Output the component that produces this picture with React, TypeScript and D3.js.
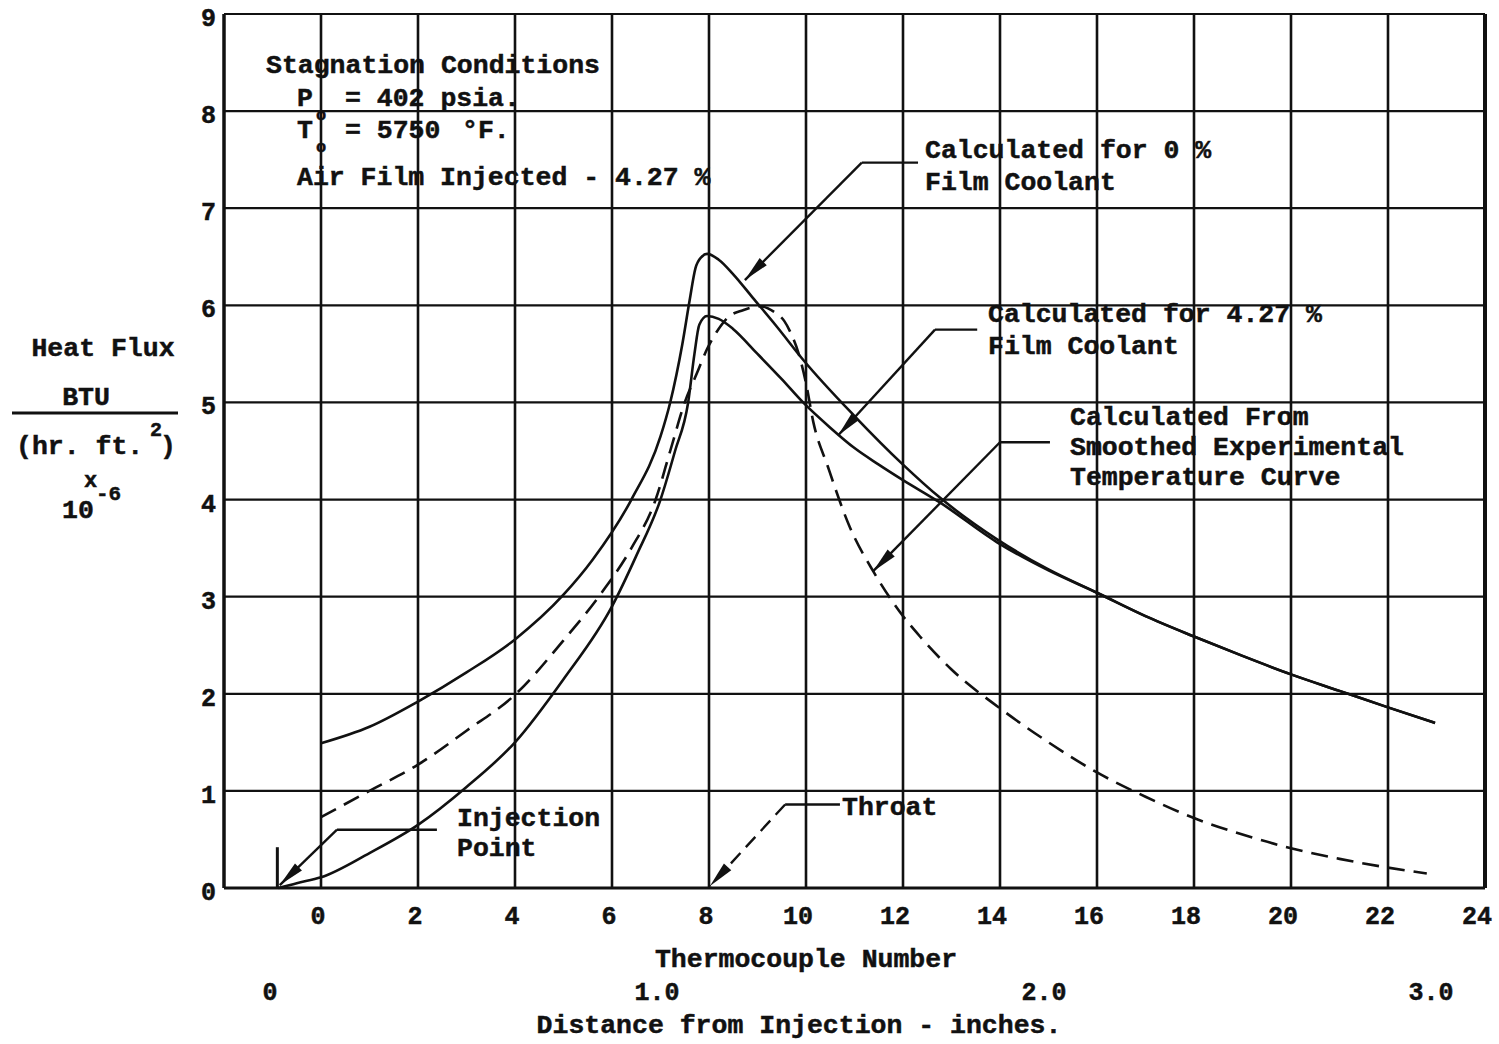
import React, { useRef, useEffect } from 'react';
import * as d3 from 'd3';

const W = 1499;
const H = 1044;

// axis ticks
const tcTicks = [0, 2, 4, 6, 8, 10, 12, 14, 16, 18, 20, 22, 24];
const fluxTicks = [0, 1, 2, 3, 4, 5, 6, 7, 8, 9];
const inchTicks = [0, 1, 2, 3];
const inchLabels = ['0', '1.0', '2.0', '3.0'];

// Calculated for 0 % film coolant
const zeroX = [0, 1, 2, 3, 4, 5, 5.6, 6.4, 7.0, 7.2, 7.45, 7.6, 7.72, 7.85, 7.96, 8.2, 8.5, 8.9, 9.4, 9.94, 11, 12, 12.76, 13.94, 15, 16, 17, 18, 19, 20, 21, 22, 22.97];
const zeroY = [1.49, 1.66, 1.92, 2.22, 2.56, 3.02, 3.38, 4.0, 4.65, 5.0, 5.6, 6.05, 6.38, 6.5, 6.53, 6.47, 6.32, 6.08, 5.78, 5.44, 4.86, 4.36, 4.02, 3.59, 3.28, 3.04, 2.8, 2.59, 2.39, 2.2, 2.03, 1.86, 1.7];

// Calculated for 4.27 % film coolant
const filmX = [-0.88, -0.5, 0, 1, 2, 3, 4, 5, 6, 6.5, 7.0, 7.3, 7.57, 7.7, 7.8, 7.96, 8.2, 8.49, 9.0, 9.5, 9.94, 10.5, 11, 11.5, 12, 12.76, 13.94, 15, 16, 17, 18, 19, 20, 21, 22, 22.97];
const filmY = [0, 0.05, 0.11, 0.36, 0.65, 1.04, 1.5, 2.15, 2.9, 3.42, 4.0, 4.5, 5.0, 5.5, 5.8, 5.89, 5.86, 5.76, 5.5, 5.24, 5.0, 4.74, 4.53, 4.36, 4.2, 3.97, 3.56, 3.27, 3.04, 2.8, 2.59, 2.39, 2.2, 2.03, 1.86, 1.7];

// Calculated from smoothed experimental temperature curve
const expX = [0, 1, 2, 3, 4, 5, 5.8, 6.4, 6.9, 7.2, 7.5, 7.75, 7.96, 8.15, 8.4, 8.7, 9.05, 9.35, 9.55, 9.7, 9.85, 10.0, 10.15, 10.45, 10.9, 11.4, 11.94, 12.35, 13, 14, 15, 16, 17, 18, 19, 20, 21, 22, 22.8];
const expY = [0.73, 1.0, 1.27, 1.62, 1.99, 2.55, 3.05, 3.5, 4.0, 4.5, 5.0, 5.3, 5.55, 5.72, 5.88, 5.95, 5.99, 5.93, 5.84, 5.7, 5.5, 5.2, 4.8, 4.34, 3.72, 3.25, 2.84, 2.59, 2.25, 1.85, 1.5, 1.19, 0.94, 0.72, 0.55, 0.41, 0.3, 0.21, 0.15];

// leader lines (thermocouple no., heat flux): horizontal stub, elbow, arrow tip
const leaders: { pts: [number, number][]; dashed?: boolean }[] = [
  { pts: [[12.31, 7.47], [11.15, 7.47], [8.74, 6.26]] },
  { pts: [[13.53, 5.75], [12.66, 5.75], [10.66, 4.66]] },
  { pts: [[15.03, 4.59], [14.0, 4.59], [11.38, 3.26]] },
  { pts: [[2.39, 0.6], [0.33, 0.6], [-0.85, 0.03]] },
  { pts: [[10.7, 0.86], [9.57, 0.86], [8.02, 0.02]], dashed: true },
];

const notes = [
  { x: 925, y: 158, lh: 32, lines: ['Calculated for 0 %', 'Film Coolant'] },
  { x: 988, y: 322, lh: 32, lines: ['Calculated for 4.27 %', 'Film Coolant'] },
  { x: 1070, y: 425, lh: 30, lines: ['Calculated From', 'Smoothed Experimental', 'Temperature Curve'] },
  { x: 457, y: 826, lh: 30, lines: ['Injection', 'Point'] },
  { x: 842, y: 815, lh: 0, lines: ['Throat'] },
];

const FONT = '"Liberation Mono", "Courier New", monospace';

const App: React.FC = () => {
  const svgRef = useRef<SVGSVGElement | null>(null);

  useEffect(() => {
    if (!svgRef.current) return;
    const svg = d3.select(svgRef.current);
    svg.selectAll('*').remove();

    const x = d3.scaleLinear().domain([-2, 24]).range([224, 1485]);
    const y = d3.scaleLinear().domain([0, 9]).range([888, 14]);
    const inch = d3.scaleLinear().domain([0, 3]).range([270, 1431]);

    const ink = '#111';

    // grid
    const grid = svg.append('g');
    grid.selectAll('.vline')
      .data(d3.range(-2, 25, 2))
      .join('line')
      .attr('x1', d => x(d)).attr('x2', d => x(d))
      .attr('y1', y(9)).attr('y2', y(0))
      .attr('stroke', ink)
      .attr('stroke-width', d => (d === -2 ? 3.5 : d === 24 ? 4 : 2.6));
    grid.selectAll('.hline')
      .data(fluxTicks)
      .join('line')
      .attr('x1', x(-2)).attr('x2', x(24))
      .attr('y1', d => y(d)).attr('y2', d => y(d))
      .attr('stroke', ink)
      .attr('stroke-width', d => (d === 0 ? 3 : 2.2));

    // curves
    const line = d3.line<[number, number]>()
      .x(d => x(d[0]))
      .y(d => y(d[1]))
      .curve(d3.curveMonotoneX);

    const series = [
      { xs: zeroX, ys: zeroY, dash: null },
      { xs: filmX, ys: filmY, dash: null },
      { xs: expX, ys: expY, dash: '17 9' },
    ];
    series.forEach(s => {
      const pts = s.xs.map((v, i) => [v, s.ys[i]] as [number, number]);
      svg.append('path')
        .attr('d', line(pts))
        .attr('fill', 'none')
        .attr('stroke', ink)
        .attr('stroke-width', 2.6)
        .attr('stroke-dasharray', s.dash);
    });

    // leaders with arrow heads
    leaders.forEach(l => {
      const p = l.pts.map(d => [x(d[0]), y(d[1])] as [number, number]);
      svg.append('path')
        .attr('d', d3.line()([p[0], p[1]]))
        .attr('fill', 'none')
        .attr('stroke', ink)
        .attr('stroke-width', 2.4);
      svg.append('path')
        .attr('d', d3.line()([p[1], p[2]]))
        .attr('fill', 'none')
        .attr('stroke', ink)
        .attr('stroke-width', 2.4)
        .attr('stroke-dasharray', l.dashed ? '14 8' : null);
      const [tx, ty] = p[2];
      const [bx, by] = p[1];
      const len = Math.hypot(tx - bx, ty - by);
      const ux = (tx - bx) / len, uy = (ty - by) / len;
      const L = 26, w = 5;
      const back: [number, number] = [tx - ux * L, ty - uy * L];
      svg.append('polygon')
        .attr('points', [
          [tx, ty],
          [back[0] - uy * w, back[1] + ux * w],
          [back[0] + uy * w, back[1] - ux * w],
        ].map(q => q.join(',')).join(' '))
        .attr('fill', ink);
    });

    // injection point tick
    svg.append('line')
      .attr('x1', x(-0.9)).attr('x2', x(-0.9))
      .attr('y1', y(0)).attr('y2', y(0.42))
      .attr('stroke', ink).attr('stroke-width', 3);

    const txt = (g: any) => g
      .attr('font-family', FONT)
      .attr('font-weight', 'bold')
      .attr('fill', ink)
      .attr('stroke', ink)
      .attr('stroke-width', 0.5);

    // y tick labels
    svg.append('g').call(txt)
      .selectAll('text')
      .data(fluxTicks)
      .join('text')
      .attr('x', 216)
      .attr('y', d => y(d) + 12)
      .attr('text-anchor', 'end')
      .attr('font-size', 25)
      .text(d => d);

    // thermocouple tick labels
    svg.append('g').call(txt)
      .selectAll('text')
      .data(tcTicks)
      .join('text')
      .attr('x', d => x(d) - (d >= 10 ? 8 : 3))
      .attr('y', 924)
      .attr('text-anchor', 'middle')
      .attr('font-size', 25)
      .text(d => d);

    // inch tick labels
    svg.append('g').call(txt)
      .selectAll('text')
      .data(inchTicks)
      .join('text')
      .attr('x', d => inch(d))
      .attr('y', 1000)
      .attr('text-anchor', 'middle')
      .attr('font-size', 25)
      .text((_, i) => inchLabels[i]);

    // axis titles
    const at = svg.append('g').call(txt).attr('font-size', 26.5);
    at.append('text').attr('x', 806).attr('y', 967).attr('text-anchor', 'middle').text('Thermocouple Number');
    at.append('text').attr('x', 799).attr('y', 1033).attr('text-anchor', 'middle').text('Distance from Injection - inches.');

    const yt = at.append('text');
    yt.append('tspan').attr('x', 103).attr('y', 356).attr('text-anchor', 'middle').text('Heat Flux');
    yt.append('tspan').attr('x', 86).attr('y', 405).attr('text-anchor', 'middle').text('BTU');
    yt.append('tspan').attr('x', 16).attr('y', 454).text('(hr. ft.');
    yt.append('tspan').attr('x', 150).attr('y', 436).attr('font-size', 20).text('2');
    yt.append('tspan').attr('x', 160).attr('y', 454).text(')');
    yt.append('tspan').attr('x', 84).attr('y', 487).attr('font-size', 22).text('x');
    yt.append('tspan').attr('x', 62).attr('y', 518).text('10');
    yt.append('tspan').attr('x', 96).attr('y', 500).attr('font-size', 21).text('-6');
    svg.append('line')
      .attr('x1', 12).attr('x2', 178).attr('y1', 413).attr('y2', 413)
      .attr('stroke', ink).attr('stroke-width', 3);

    // notes
    const ng = svg.append('g').call(txt).attr('font-size', 26.5);
    notes.forEach(n => {
      const t = ng.append('text');
      n.lines.forEach((s, i) => {
        t.append('tspan').attr('x', n.x).attr('y', n.y + i * n.lh).text(s);
      });
    });

    // stagnation conditions block
    const st = ng.append('text');
    st.append('tspan').attr('x', 266).attr('y', 73).text('Stagnation Conditions');
    st.append('tspan').attr('x', 297).attr('y', 106).text('P');
    st.append('tspan').attr('x', 316).attr('y', 120).attr('font-size', 17).text('o');
    st.append('tspan').attr('x', 345).attr('y', 106).text('= 402 psia.');
    st.append('tspan').attr('x', 297).attr('y', 138).text('T');
    st.append('tspan').attr('x', 316).attr('y', 152).attr('font-size', 17).text('o');
    st.append('tspan').attr('x', 345).attr('y', 138).text('= 5750');
    st.append('tspan').attr('x', 462).attr('y', 138).text('°F.');
    st.append('tspan').attr('x', 297).attr('y', 185).text('Air Film Injected - 4.27 %');
  }, []);

  return (
    <svg
      ref={svgRef}
      width={W}
      height={H}
      style={{ position: 'absolute', left: 0, top: 0, background: '#fff', display: 'block' }}
    />
  );
};

export default App;
